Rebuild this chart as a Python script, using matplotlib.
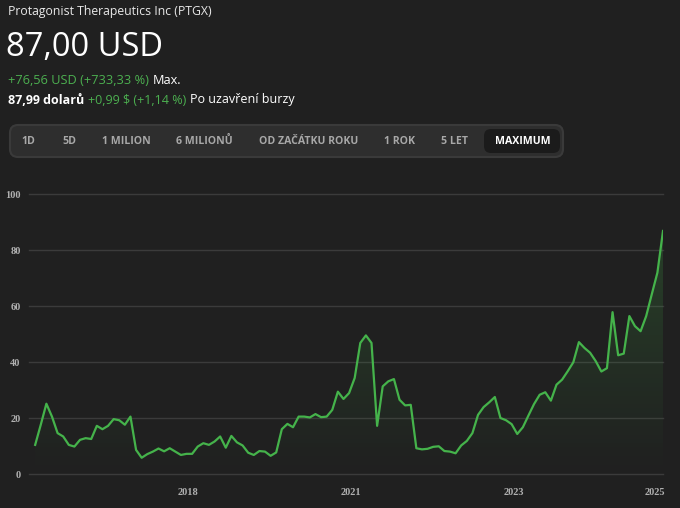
import numpy as np
import matplotlib
matplotlib.use('Agg')
import matplotlib.pyplot as plt
from matplotlib.patches import FancyBboxPatch, Polygon
from matplotlib.colors import LinearSegmentedColormap

# price history (USD), roughly evenly spaced samples
prices = [10.4, 17.6, 25.1, 20.5, 14.6, 13.4, 10.4, 9.8, 12.2, 12.8,
          12.5, 17.2, 16.0, 17.2, 19.6, 19.2, 17.6, 20.5, 8.6, 5.8,
          7.1, 8.0, 9.1, 8.1, 9.2, 8.0, 6.8, 7.2, 7.2, 9.8,
          11.0, 10.4, 11.6, 13.4, 9.4, 13.6, 11.3, 10.2, 7.6, 6.8,
          8.2, 8.0, 6.5, 7.7, 16.0, 17.9, 16.7, 20.5, 20.5, 20.2,
          21.4, 20.3, 20.5, 22.9, 29.4, 26.8, 28.9, 34.3, 46.8, 49.5,
          46.8, 17.2, 31.3, 33.1, 33.9, 26.5, 24.5, 24.7, 9.2, 8.8,
          9.0, 9.7, 9.9, 8.2, 8.0, 7.4, 10.2, 11.8, 14.6, 21.1,
          23.9, 25.6, 27.5, 20.0, 19.2, 17.8, 14.3, 16.7, 20.9, 25.0,
          28.3, 29.2, 26.2, 31.9, 33.7, 36.7, 39.9, 47.1, 45.0, 43.3,
          40.3, 36.6, 37.8, 57.8, 42.4, 43.0, 56.4, 52.8, 51.0, 56.4,
          64.2, 71.9, 86.8]
year_labels = ['2018', '2021', '2023', '2025']
year_pos = [27.3, 56.3, 85.4, 110.5]
y_ticks = [0, 20, 40, 60, 80, 100]
ranges = ['1D', '5D', '1 MILION', '6 MILIONŮ', 'OD ZAČÁTKU ROKU', '1 ROK', '5 LET', 'MAXIMUM']
range_x = [28.5, 69.5, 126, 204, 309, 400, 454.5, 523]

BG = '#202020'
GREEN = '#45b34b'
TXT_GREEN = '#4cb050'
plt.rcParams['font.family'] = ['Open Sans', 'DejaVu Sans']

fig = plt.figure(figsize=(6.8, 5.08), dpi=100, facecolor=BG)

# header overlay in pixel coordinates
top = fig.add_axes([0, 0, 1, 1])
top.set_xlim(0, 680)
top.set_ylim(508, 0)
top.axis('off')
top.patch.set_alpha(0)
fig.canvas.draw()


def right_of(t):
    bb = t.get_window_extent(renderer=fig.canvas.get_renderer())
    return bb.transformed(top.transData.inverted()).x1


top.text(8, 11, 'Protagonist Therapeutics Inc (PTGX)', color='#e8e8e8', fontsize=8.8, va='center')
top.text(6, 47, '87,00 USD', color='white', fontsize=23.5, va='center')
t = top.text(8, 80, '+76,56 USD (+733,33 %)', color=TXT_GREEN, fontsize=9.2, va='center')
top.text(right_of(t) + 4, 80, 'Max.', color='white', fontsize=9.2, va='center')

t = top.text(8, 100, '87,99 dolarů', color='white', fontsize=9, va='center', fontweight='bold')
t = top.text(right_of(t) + 4, 100, '+0,99 $ (+1,14 %)', color=TXT_GREEN, fontsize=9, va='center')
top.text(right_of(t) + 4, 100, 'Po uzavření burzy', color='white', fontsize=9, va='center')

top.add_patch(FancyBboxPatch((10, 125), 553, 32, boxstyle='round,pad=0,rounding_size=8',
                             fc='#2e2e2e', ec='#3a3a3a', lw=1.5))
top.add_patch(FancyBboxPatch((484, 129), 76, 24, boxstyle='round,pad=0,rounding_size=7',
                             fc='#1b1b1b', ec='none'))
for name, px in zip(ranges, range_x):
    col = 'white' if name == 'MAXIMUM' else '#a8a8a8'
    top.text(px, 141, name, color=col, fontsize=7.6, fontweight='bold', ha='center', va='center')

# price chart
ax = fig.add_axes([29 / 680, 34 / 508, 634 / 680, 280 / 508])
ax.set_facecolor('none')
x = np.arange(len(prices))
ax.set_xlim(-1.1, len(prices) - 1)
ax.set_ylim(0, 100)

for v in y_ticks:
    ax.axhline(v, color='#3b3b3b', lw=1, zorder=0, clip_on=False)

cmap = LinearSegmentedColormap.from_list('g', [(0.27, 0.70, 0.29, 0.0), (0.27, 0.70, 0.29, 0.22)])
grad = np.linspace(0, 1, 256).reshape(-1, 1)
img = ax.imshow(grad, extent=[x[0], x[-1], 0, max(prices)], origin='lower', cmap=cmap,
                aspect='auto', zorder=1)
verts = np.column_stack([np.r_[x, x[-1], x[0]], np.r_[prices, 0, 0]])
clip = Polygon(verts, closed=True, transform=ax.transData)
img.set_clip_path(clip)

ax.plot(x, prices, color=GREEN, lw=1.6, zorder=3, solid_joinstyle='round')

for s in ax.spines.values():
    s.set_visible(False)
tick_font = dict(family='Liberation Serif', weight='bold', size=7.5)
ax.set_yticks(y_ticks)
ax.set_yticklabels([str(v) for v in y_ticks], fontdict=tick_font)
ax.set_xticks(year_pos)
ax.set_xticklabels(year_labels, fontdict=tick_font)
ax.tick_params(length=0, colors='#b0b0b0')
ax.tick_params(axis='y', pad=6)
ax.tick_params(axis='x', pad=10)

fig.savefig('out.png', dpi=100, facecolor=BG)
